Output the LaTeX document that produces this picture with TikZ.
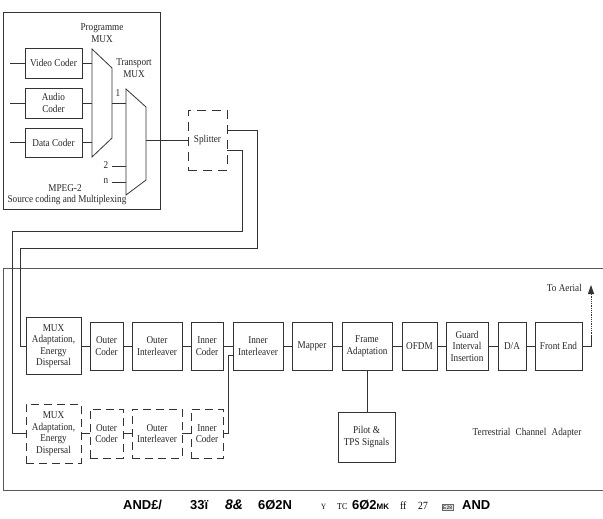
\documentclass[tikz,border=0pt]{standalone}
\usepackage{fontspec}
\setmainfont{Liberation Serif}[FakeStretch=0.88]
\newfontfamily\garbfont{Liberation Sans}
\usetikzlibrary{arrows.meta}
\begin{document}
\begin{tikzpicture}[x=1bp,y=-1bp,
  ln/.style={draw=black!80, line width=0.8bp},
  blk/.style={ln, rectangle, align=center, inner sep=1bp, text=black!85,
    font=\fontsize{10.5}{11.5}\selectfont},
  dblk/.style={blk, dash pattern=on 8bp off 5bp},
  lbl/.style={inner sep=0bp, align=center, text=black!85,
    font=\fontsize{10.5}{11.5}\selectfont},
  garb/.style={inner sep=0bp, anchor=base west, text=black,
    font=\garbfont\bfseries\fontsize{13}{13}\selectfont}]
\useasboundingbox (0,0) rectangle (603,519);

% ---------- source coding and multiplexing ----------
\node[ln, minimum width=157bp, minimum height=197bp] (src) at (81.5,110.5) {};
\node[blk, minimum width=57bp, minimum height=30bp] (video) at (53.5,63) {Video Coder};
\node[blk, minimum width=57bp, minimum height=30bp] (audio) at (53.5,103) {Audio\\Coder};
\node[blk, minimum width=57bp, minimum height=29bp] (data) at (53.5,142.5) {Data Coder};
\coordinate (vin) at (10,63);
\coordinate (ain) at (10,103);
\coordinate (din) at (10,142.5);
\draw[ln] (vin) -- (video.west);
\draw[ln] (ain) -- (audio.west);
\draw[ln] (din) -- (data.west);

% programme MUX
\coordinate (pa) at (92,49);
\coordinate (pb) at (112,68);
\coordinate (pc) at (112,138);
\coordinate (pd) at (92,157);
\draw[ln] (pa) -- (pb) -- (pc) -- (pd) -- cycle;
\node[lbl] (pmuxlbl) at (102,33) {Programme\\MUX};
\draw[ln] (video.east) -- (video.east -| pa);
\draw[ln] (audio.east) -- (audio.east -| pa);
\draw[ln] (data.east) -- (data.east -| pa);

% transport MUX
\coordinate (ta) at (126,89);
\coordinate (tb) at (146,107);
\coordinate (tc) at (146,180);
\coordinate (td) at (126,195);
\draw[ln] (ta) -- (tb) -- (tc) -- (td) -- cycle;
\node[lbl] (tmuxlbl) at (134,68) {Transport\\MUX};
\coordinate (pout) at (112,103);
\coordinate (tin1) at (126,103);
\draw[ln] (pout) -- (tin1);
\node[lbl] (one) at (118,93) {1};
\coordinate (s2) at (112,166);
\coordinate (tin2) at (126,166);
\coordinate (sn) at (112,182);
\coordinate (tinn) at (126,182);
\draw[ln] (s2) -- (tin2);
\draw[ln] (sn) -- (tinn);
\node[lbl] (two) at (106,165.5) {2};
\node[lbl] (nn) at (106,181) {n};
\node[lbl] (mpeg) at (65,188) {MPEG-2};
\node[lbl] (scm) at (67,200) {Source coding and Multiplexing};

% splitter
\node[blk, dash pattern=on 9bp off 6bp, minimum width=39bp, minimum height=60bp] (split) at (207.5,140) {Splitter};
\coordinate (tout) at (146,140);
\draw[ln] (tout) -- (split.west);

% ---------- terrestrial channel adapter ----------
\draw[ln, draw=black!65] (606,268) -- (3,268) -- (3,490) -- (606,490);

\node[blk, minimum width=55bp, minimum height=57bp] (mux1) at (53.5,346) {MUX\\Adaptation,\\Energy\\Dispersal};
\node[blk, minimum width=33bp, minimum height=48bp] (oc1) at (106.5,346) {Outer\\Coder};
\node[blk, minimum width=50bp, minimum height=48bp] (oi1) at (157,346) {Outer\\Interleaver};
\node[blk, minimum width=32bp, minimum height=48bp] (ic1) at (207,346) {Inner\\Coder};
\node[blk, minimum width=50bp, minimum height=48bp] (ii) at (258,346) {Inner\\Interleaver};
\node[blk, minimum width=40bp, minimum height=48bp] (mapper) at (312,346) {Mapper};
\node[blk, minimum width=50bp, minimum height=48bp] (frame) at (367,346) {Frame\\Adaptation};
\node[blk, minimum width=35bp, minimum height=48bp] (ofdm) at (419.5,346) {OFDM};
\node[blk, minimum width=42bp, minimum height=48bp] (guard) at (467,346) {Guard\\Interval\\Insertion};
\node[blk, minimum width=28bp, minimum height=48bp] (da) at (512,346) {D/A};
\node[blk, minimum width=47bp, minimum height=48bp] (fe) at (558.5,346) {Front End};
\node[blk, minimum width=57bp, minimum height=50bp] (pilot) at (366.5,437) {Pilot \&\\TPS Signals};

\draw[ln] (mux1) -- (oc1) -- (oi1) -- (ic1) -- (ii) -- (mapper) -- (frame) -- (ofdm) -- (guard) -- (da) -- (fe);
\draw[ln] (frame.south) -- (frame.south |- pilot.north);

% to aerial
\coordinate (ac) at (591,346);
\coordinate (ad) at (591,336);
\coordinate (atip) at (591,285);
\draw[ln] (fe.east) -- (ac) -- (ad);
\draw[ln, densely dotted, -{Triangle[length=9bp,width=6bp]}] (ad) -- (atip);
\node[lbl, anchor=east] (aerial) at (582,288) {To Aerial};

\node[lbl] (tca) at (527,433) {Terrestrial\hspace{3bp} Channel\hspace{3bp} Adapter};

% dashed second chain
\node[dblk, minimum width=55bp, minimum height=59bp] (mux2) at (53.5,433.5) {MUX\\Adaptation,\\Energy\\Dispersal};
\node[dblk, minimum width=33bp, minimum height=49bp] (oc2) at (106.5,433.5) {Outer\\Coder};
\node[dblk, minimum width=50bp, minimum height=49bp] (oi2) at (157,433.5) {Outer\\Interleaver};
\node[dblk, minimum width=32bp, minimum height=49bp] (ic2) at (207,433.5) {Inner\\Coder};
\draw[ln] (mux2) -- (oc2) -- (oi2) -- (ic2);
\coordinate (jn) at (228,355);
\draw[ln] (ic2.east) -| (jn) -- (jn -| ii.west);

% splitter outputs
\coordinate (r1) at (257,248);
\coordinate (l1) at (20,248);
\coordinate (r2) at (242,231);
\coordinate (l2) at (12,231);
\draw[ln] ([yshift=10bp]split.east) -| (r1) -- (l1) |- (mux1.west);
\draw[ln] ([yshift=-10bp]split.east) -| (r2) -- (l2) |- (mux2.west);

% garbled caption
\node[garb] (g1) at (123,509) {AND£/};
\node[garb] (g2) at (190,509) {33ï};
\node[garb, font=\garbfont\bfseries\itshape\fontsize{14}{14}\selectfont] (g3) at (225,509) {8\&};
\node[garb] (g4) at (258,509) {6Ø2N};
\node[garb, font=\fontsize{8}{8}\selectfont] (g5) at (321,509) {Y};
\node[garb, font=\fontsize{9}{9}\selectfont] (g6) at (337,509) {TC};
\node[garb] (g7) at (352,509) {6Ø2\fontsize{8}{8}\selectfont MK};
\node[garb, font=\fontsize{11}{11}\selectfont] (g8) at (400,509) {ff};
\node[garb, font=\fontsize{11}{11}\selectfont] (g9) at (418,509) {27};
\node[garb, draw=black!60, fill=black!10, font=\garbfont\fontsize{5}{5}\selectfont, inner sep=1bp] (g10) at (442,509) {E28};
\node[garb] (g11) at (462,509) {AND};
\end{tikzpicture}
\end{document}
